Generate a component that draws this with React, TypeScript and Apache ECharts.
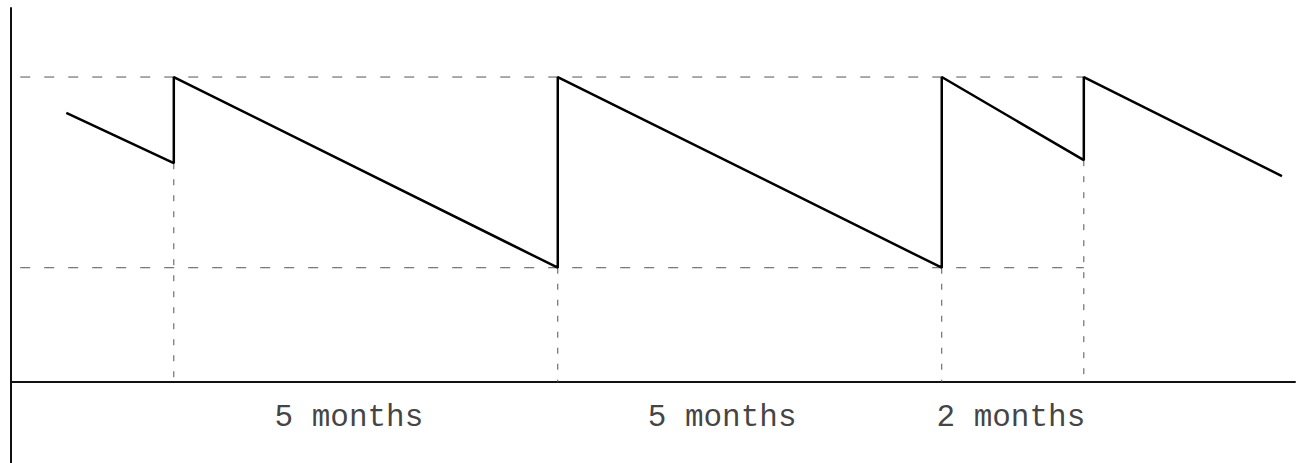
import React, { useEffect, useRef } from "react";
import * as echarts from "echarts";

// Inventory level over time (months, 0 = first replenishment)
const times = [-1.4, 0, 0, 5, 5, 10, 10, 11.85, 11.85, 14.43];
const levels = [70.6, 57.4, 80, 30, 80, 30, 80, 58.2, 80, 54.0];

// Reference levels (max / min stock) and where the guides end
const maxLevel = 80;
const minLevel = 30;
const guideStart = -2.0;
const guideEnd = 11.85;

// Vertical guides: replenishment times and the level reached just before
const dropTimes = [0, 5, 10, 11.85];
const dropLevels = [57.4, 30, 30, 58.2];

// Interval labels
const intervalLabels = ["5 months", "5 months", "2 months"];
const labelX = [2.28, 7.14, 10.9];
const labelY = -9.4;

export default function App() {
  const ref = useRef<HTMLDivElement>(null);
  useEffect(() => {
    if (!ref.current) return;
    const chart = echarts.init(ref.current, null, { renderer: "svg" });
    const dashed = (data: number[][], dash: number[]) => ({
      type: "line",
      data,
      symbol: "none",
      silent: true,
      lineStyle: { color: "#555", width: 1, type: dash },
      z: 1,
    });
    const series: any[] = [
      dashed([[guideStart, maxLevel], [guideEnd, maxLevel]], [10, 14]),
      dashed([[guideStart, minLevel], [guideEnd, minLevel]], [10, 14]),
      ...dropTimes.map((t, i) => dashed([[t, dropLevels[i]], [t, 0]], [6, 10])),
      {
        type: "line",
        data: times.map((t, i) => [t, levels[i]]),
        symbol: "none",
        lineStyle: { color: "#000", width: 2.5 },
        z: 3,
      },
      {
        type: "scatter",
        symbolSize: 0,
        data: intervalLabels.map((s, i) => ({ name: s, value: [labelX[i], labelY] })),
        label: {
          show: true,
          position: "inside",
          formatter: (p: any) => p.name,
          fontFamily: "Liberation Mono",
          fontSize: 31,
          color: "#111",
          textBorderWidth: 0,
          align: "center",
          verticalAlign: "middle",
        },
        z: 4,
      },
    ];
    chart.setOption({
      animation: false,
      backgroundColor: "#fff",
      grid: { left: 11, right: 5, top: 8, bottom: 0, containLabel: false },
      xAxis: {
        type: "value",
        min: -2.12,
        max: 14.6,
        axisLine: { show: true, onZero: true, lineStyle: { color: "#111", width: 2 } },
        axisTick: { show: false },
        axisLabel: { show: false },
        splitLine: { show: false },
      },
      yAxis: {
        type: "value",
        min: -21.2,
        max: 98.1,
        axisLine: { show: true, onZero: false, lineStyle: { color: "#111", width: 2 } },
        axisTick: { show: false },
        axisLabel: { show: false },
        splitLine: { show: false },
      },
      series,
    });
    return () => chart.dispose();
  }, []);
  return (
    <div
      ref={ref}
      style={{ position: "absolute", left: 0, top: 0, width: 1300, height: 463 }}
    />
  );
}
